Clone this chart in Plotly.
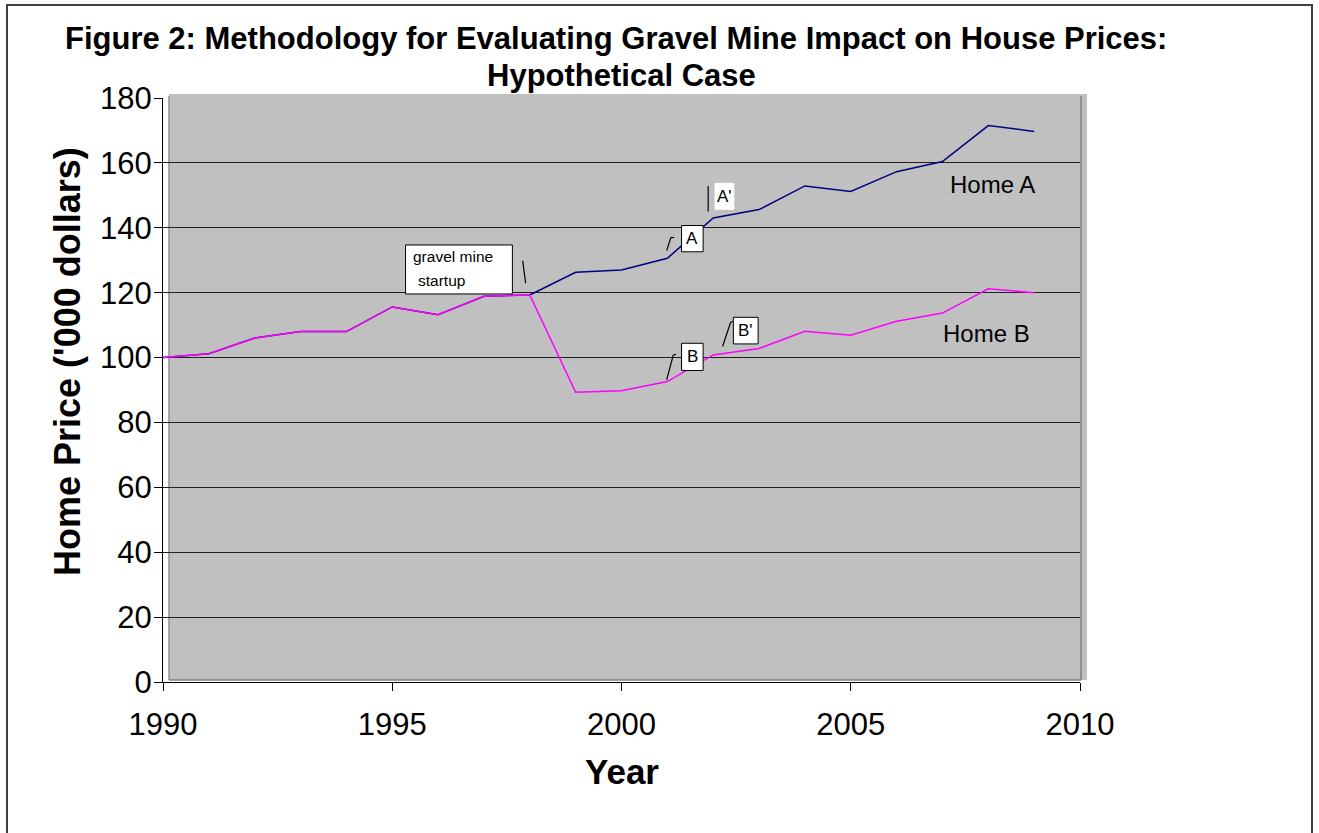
import plotly.graph_objects as go

years = list(range(1990, 2010))
home_a = [100, 101.2, 106, 108, 108, 115.6, 113.2, 118.9, 119.3, 126.3,
          127.0, 130.6, 143.0, 145.6, 152.9, 151.2, 157.3, 160.4, 171.5, 169.7]
home_b = [100, 101.2, 106, 108, 108, 115.6, 113.2, 118.9, 119.3, 89.3,
          89.8, 92.6, 100.8, 102.8, 108.1, 106.9, 111.2, 113.7, 121.2, 120.0]
x_ticks = [1990, 1995, 2000, 2005, 2010]
y_ticks = list(range(0, 181, 20))

# plot area in pixels
L, R, T, B = 163, 1080, 98, 682
W, H = 1319, 833
FONT = "Liberation Sans, Arial"


def px(xp):
    return (xp - L) / (R - L)


def py(yp):
    return (B - yp) / (B - T)


fig = go.Figure()
fig.add_trace(go.Scatter(x=years, y=home_a, mode="lines", name="Home A",
                         line=dict(color="#000080", width=1.5)))
fig.add_trace(go.Scatter(x=years, y=home_b, mode="lines", name="Home B",
                         line=dict(color="#ff00ff", width=1.5)))

shapes = []
# outer frame
shapes.append(dict(type="rect", xref="paper", yref="paper",
                   x0=px(7), x1=px(1312), y0=py(845), y1=py(5),
                   line=dict(color="#404040", width=2), fillcolor="rgba(0,0,0,0)",
                   layer="below"))
# gray wall (3D-style)
shapes.append(dict(type="rect", xref="paper", yref="paper",
                   x0=px(169), x1=px(1087), y0=py(680), y1=py(94),
                   line=dict(width=0), fillcolor="#c0c0c0", layer="below"))
shapes.append(dict(type="line", xref="paper", yref="paper",
                   x0=px(1081), x1=px(1081), y0=py(680), y1=py(96),
                   line=dict(color="#808080", width=1.5), layer="below"))
shapes.append(dict(type="line", xref="paper", yref="paper",
                   x0=px(169), x1=px(1081), y0=py(680), y1=py(680),
                   line=dict(color="#808080", width=1.5), layer="below"))
shapes.append(dict(type="line", xref="paper", yref="paper",
                   x0=px(169), x1=px(169), y0=py(680), y1=py(96),
                   line=dict(color="#909090", width=1.5), layer="below"))


def box(x0, x1, y0, y1, border=True):
    shapes.append(dict(type="rect", xref="x", yref="y", x0=x0, x1=x1, y0=y0, y1=y1,
                       fillcolor="white",
                       line=dict(color="black" if border else "white", width=1)))


def stroke(xs, ys):
    for i in range(len(xs) - 1):
        shapes.append(dict(type="line", xref="x", yref="y",
                           x0=xs[i], x1=xs[i + 1], y0=ys[i], y1=ys[i + 1],
                           line=dict(color="black", width=1.2)))


box(1995.29, 1997.62, 119.6, 134.7)
stroke([1997.845, 1997.91], [129.9, 122.9])
box(2001.31, 2001.78, 132.6, 140.7)
stroke([2000.985, 2001.077, 2001.15], [132.95, 137.0, 137.0])
box(2002.04, 2002.45, 145.7, 153.7, border=False)
stroke([2001.89, 2001.89], [145.0, 152.9])
box(2001.31, 2001.78, 96.0, 104.4)
stroke([2000.985, 2001.13, 2001.19], [93.1, 100.8, 101.0])
box(2002.44, 2002.98, 104.2, 112.4)
stroke([2002.205, 2002.38, 2002.43], [103.4, 110.9, 111.1])

fig.update_layout(shapes=shapes)

ann = []


def txt(x, y, s, size, xanchor="center"):
    ann.append(dict(x=x, y=y, xref="x", yref="y", text=s, showarrow=False,
                    xanchor=xanchor, yanchor="middle",
                    font=dict(family=FONT, size=size, color="black")))


txt(1995.40, 131.1, "gravel mine", 15.5, "left")
txt(1995.51, 123.9, "startup", 15.5, "left")
txt(2001.545, 136.7, "A", 17)
txt(2002.25, 149.7, "A'", 17)
txt(2001.545, 100.2, "B", 17)
txt(2002.71, 108.3, "B'", 17)
txt(2008.10, 153.2, "Home A", 24)
txt(2007.95, 107.3, "Home B", 24)


def ptxt(xp, yp, s, size, angle=0):
    ann.append(dict(x=px(xp), y=py(yp), xref="paper", yref="paper",
                    xanchor="center", yanchor="middle", showarrow=False,
                    textangle=angle, text=s,
                    font=dict(family=FONT, size=size, color="black")))


ptxt(615.5, 39, "<b>Figure 2: Methodology for Evaluating Gravel Mine Impact on House Prices:</b>", 31)
ptxt(621, 75, "<b>Hypothetical Case</b>", 31)
ptxt(622, 771, "<b>Year</b>", 35)
ptxt(67, 362, "<b>Home Price ('000 dollars)</b>", 36, -90)
fig.update_layout(annotations=ann)

fig.update_layout(
    width=W, height=H,
    margin=dict(l=L, r=W - R, t=T, b=H - B),
    paper_bgcolor="white", plot_bgcolor="rgba(0,0,0,0)",
    showlegend=False,
    font=dict(family=FONT, color="black"),
    xaxis=dict(range=[1990, 2010], tickvals=x_ticks, ticks="outside", ticklen=8,
               tickcolor="black", showline=True, linecolor="black", linewidth=1,
               showgrid=False, zeroline=False, tickfont=dict(size=31),
               ticklabelstandoff=7),
    yaxis=dict(range=[0, 180], tickvals=y_ticks, ticks="outside", ticklen=8,
               tickcolor="black", showline=True, linecolor="black", linewidth=1,
               showgrid=True, gridcolor="#202020", gridwidth=1, zeroline=False,
               tickfont=dict(size=31), ticklabelstandoff=-4),
)

fig.write_html("out.html", config={"displayModeBar": False},
               post_script="document.body.style.margin='0';")
